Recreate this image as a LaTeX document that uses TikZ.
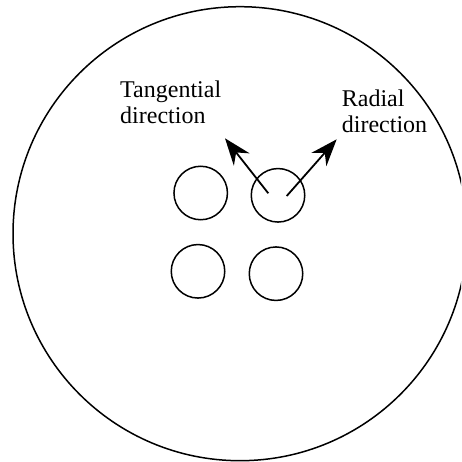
\documentclass[tikz,border=0pt]{standalone}
\usepackage{fontspec}
\setmainfont{Liberation Serif}
\usetikzlibrary{arrows.meta,calc}

\begin{document}
\begin{tikzpicture}[x=1pt, y=-1pt,
  disk/.style={draw, circle, line width=1.5pt, minimum size=454pt, inner sep=0pt},
  hole/.style={draw, circle, line width=1.5pt, minimum size=53.5pt, inner sep=0pt},
  arr/.style={-{Stealth[length=27pt, width=20pt, inset=9pt]}, line width=1.8pt},
  lab/.style={font=\fontsize{24}{26}\selectfont, align=left, inner sep=0pt, anchor=base west},
]
\useasboundingbox (0,0) rectangle (461,462);
\clip (0,0) rectangle (461,462);
\node[disk] (plate) at (240,233.7) {};
\node[hole] (holeTL) at (200.7,193) {};
\node[hole] (holeTR) at (278,195.3) {};
\node[hole] (holeBL) at (198,271.3) {};
\node[hole] (holeBR) at (276,273.7) {};
\coordinate (tanTail) at ($(holeTR.center)+(-9.7,-2)$);
\coordinate (tanTip) at (225,138.3);
\coordinate (radTail) at ($(holeTR.center)+(8.7,0.7)$);
\coordinate (radTip) at (336.7,139.3);
\draw[arr] (tanTail) -- (tanTip);
\draw[arr] (radTail) -- (radTip);
% base anchor sits on the last line
\node[lab] (tanLab) at (120,123.5) {Tangential\\direction};
\node[lab] (radLab) at (341.7,132.5) {Radial\\direction};
\end{tikzpicture}
\end{document}
